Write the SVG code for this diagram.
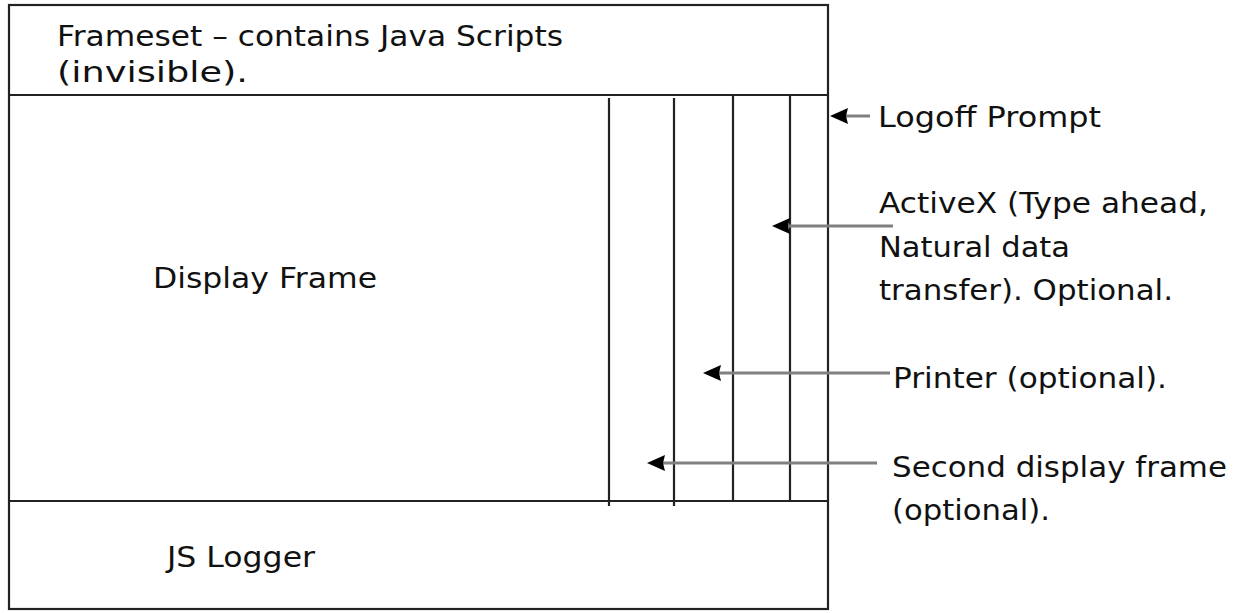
<svg xmlns="http://www.w3.org/2000/svg" width="1236" height="613" viewBox="0 0 1236 613">
<style>
.frame{fill:none;stroke:#222;stroke-width:2.2}
.div{stroke:#222;stroke-width:2.2}
.conn{stroke:#808080;stroke-width:3;fill:none}
.head{fill:#000}
text{font-family:"DejaVu Sans","Verdana",sans-serif;font-size:28px;fill:#111}
</style>
<rect width="1236" height="613" fill="#fff"/>
<g id="frameset">
<rect class="frame" x="9" y="5" width="819" height="604"/>
<line class="div" x1="9" y1="95" x2="828" y2="95"/>
<text x="57" y="46" textLength="506" lengthAdjust="spacingAndGlyphs">Frameset – contains Java Scripts</text>
<text x="57" y="82" textLength="191" lengthAdjust="spacingAndGlyphs">(invisible).</text>
</g>
<g id="display-frame">
<line class="div" x1="9" y1="501" x2="828" y2="501"/>
<text x="153" y="288" textLength="224" lengthAdjust="spacingAndGlyphs">Display Frame</text>
</g>
<g id="sub-frames">
<line class="div" x1="609" y1="98" x2="609" y2="506"/>
<line class="div" x1="674" y1="98" x2="674" y2="506"/>
<line class="div" x1="733" y1="95" x2="733" y2="501"/>
<line class="div" x1="790" y1="95" x2="790" y2="501"/>
</g>
<g id="js-logger">
<text x="167" y="567" textLength="148" lengthAdjust="spacingAndGlyphs">JS Logger</text>
</g>
<g id="labels">
<text x="878" y="127" textLength="223" lengthAdjust="spacingAndGlyphs">Logoff Prompt</text>
<text x="879" y="213" textLength="329" lengthAdjust="spacingAndGlyphs">ActiveX (Type ahead,</text>
<text x="879" y="257" textLength="191" lengthAdjust="spacingAndGlyphs">Natural data</text>
<text x="879" y="300" textLength="294" lengthAdjust="spacingAndGlyphs">transfer). Optional.</text>
<text x="893" y="388" textLength="274" lengthAdjust="spacingAndGlyphs">Printer (optional).</text>
<text x="892" y="477" textLength="335" lengthAdjust="spacingAndGlyphs">Second display frame</text>
<text x="892" y="520" textLength="158" lengthAdjust="spacingAndGlyphs">(optional).</text>
</g>
<g id="connectors">
<line class="conn" x1="845" y1="116" x2="870" y2="116"/>
<polygon class="head" points="830,116 848,108 846,116 848,124"/>
<line class="conn" x1="787" y1="226" x2="893" y2="226"/>
<polygon class="head" points="772,226 790,218 788,226 790,234"/>
<line class="conn" x1="718" y1="373" x2="890" y2="373"/>
<polygon class="head" points="703,373 721,365 719,373 721,381"/>
<line class="conn" x1="662" y1="463" x2="877" y2="463"/>
<polygon class="head" points="647,463 665,455 663,463 665,471"/>
</g>
</svg>
